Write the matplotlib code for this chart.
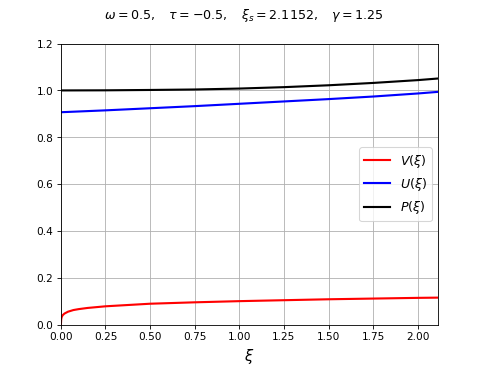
import matplotlib
matplotlib.use("Agg")
import matplotlib.pyplot as plt

# parameters of the solution
omega = 0.5
tau = -0.5
xi_s = 2.1152
gamma = 1.25

# V(xi) (steep rise near the origin)
xi_v = [0.0, 0.002, 0.005, 0.01, 0.02, 0.04, 0.07, 0.1, 0.15, 0.25,
        0.5, 0.75, 1.0, 1.25, 1.5, 1.75, 2.0, 2.1152]
V = [0.0, 0.025, 0.034, 0.041, 0.048, 0.056, 0.063, 0.067, 0.072, 0.079,
     0.090, 0.096, 0.101, 0.105, 0.109, 0.112, 0.115, 0.116]

# U(xi) and P(xi)
xi_up = [0.0, 0.25, 0.5, 0.75, 1.0, 1.25, 1.5, 1.75, 2.0, 2.1152]
U = [0.907, 0.915, 0.924, 0.933, 0.943, 0.953, 0.963, 0.974, 0.987, 0.994]
P = [1.000, 1.0005, 1.002, 1.004, 1.008, 1.014, 1.022, 1.032, 1.044, 1.051]

fig, ax = plt.subplots(figsize=(6.4, 4.8), dpi=76.1)

ax.plot(xi_v, V, color='red', lw=2, label=r'$V(\xi)$')
ax.plot(xi_up, U, color='blue', lw=2, label=r'$U(\xi)$')
ax.plot(xi_up, P, color='black', lw=2, label=r'$P(\xi)$')

ax.set_xlim(0, xi_s)
ax.set_ylim(0, 1.2)
ax.set_xlabel(r'$\xi$', fontsize=14)
ax.grid(True)
ax.legend(loc='center right', fontsize=12)

fig.suptitle(r'$\omega = %g,\quad \tau = %g,\quad \xi_s = %.4f,\quad \gamma = %g$'
             % (omega, tau, xi_s, gamma), fontsize=12)

fig.savefig('out.png', dpi=76.1)
